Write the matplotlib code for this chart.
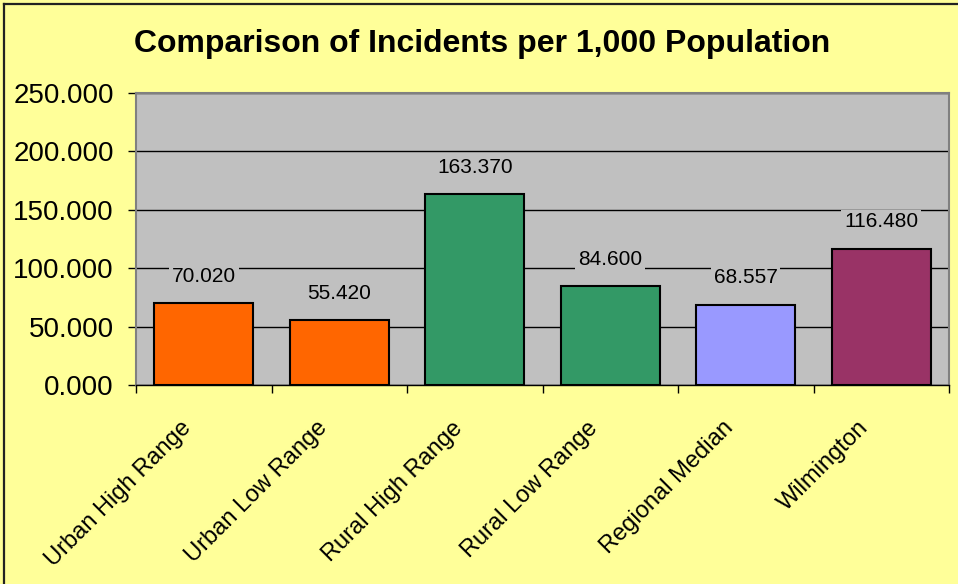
import matplotlib
matplotlib.use("Agg")
import matplotlib.pyplot as plt
from matplotlib.lines import Line2D
from matplotlib.transforms import ScaledTranslation
import numpy as np

# data
categories = ["Urban High Range", "Urban Low Range", "Rural High Range",
              "Rural Low Range", "Regional Median", "Wilmington"]
values = [70.020, 55.420, 163.370, 84.600, 68.557, 116.480]
bar_colors = ["#FF6600", "#FF6600", "#339966", "#339966", "#9999FF", "#993366"]
y_ticks = [0, 50, 100, 150, 200, 250]

plt.rcParams['font.family'] = ['Liberation Sans', 'DejaVu Sans']

fig = plt.figure(figsize=(9.58, 5.84), dpi=100, facecolor="#FFFF99")
ax = fig.add_axes([136 / 958, 1 - 385 / 584, (949 - 136) / 958, (385 - 93) / 584])
ax.set_facecolor("#C0C0C0")

x = np.arange(len(categories))
ax.bar(x, values, width=0.73, color=bar_colors, edgecolor="black", linewidth=1.5, zorder=3)

ax.set_xlim(-0.5, len(categories) - 0.5)
ax.set_ylim(0, 250)
ax.set_yticks(y_ticks)
ax.set_yticklabels([f"{v:.3f}" for v in y_ticks], fontsize=20)
ax.yaxis.grid(True, color="black", linewidth=1, zorder=1)
ax.set_axisbelow(True)

# category ticks sit between bars, labels at bar centres
ax.set_xticks(np.arange(-0.5, len(categories), 1.0))
ax.set_xticklabels([])
ax.set_xticks(x, minor=True)
ax.set_xticklabels(categories, minor=True, rotation=45, ha="right", va="top",
                   fontsize=17)
ax.tick_params(axis="x", which="minor", length=0, pad=23)
ax.tick_params(axis="x", which="major", length=6, width=1, color="black")
ax.tick_params(axis="y", length=6, width=1, color="black", pad=10)
shift = ScaledTranslation(-8 / 100, 0, fig.dpi_scale_trans)
for lab in ax.get_xticklabels(minor=True):
    lab.set_transform(lab.get_transform() + shift)

for side in ["left", "top", "right"]:
    ax.spines[side].set_color("#808080")
    ax.spines[side].set_linewidth(1.5)
ax.spines["bottom"].set_color("black")
ax.spines["bottom"].set_linewidth(1)

for xi, v in zip(x, values):
    ax.annotate(f"{v:.3f}", (xi, v), xytext=(0, 19.5), textcoords="offset points",
                ha="center", va="center", fontsize=15, zorder=4,
                bbox=dict(facecolor="#C0C0C0", edgecolor="none", pad=2))

fig.text(0.503, 0.925, "Comparison of Incidents per 1,000 Population",
         ha="center", va="center", fontsize=23, fontweight="bold")

# chart border (left and top edges only visible)
fig.add_artist(Line2D([3.5 / 958, 3.5 / 958], [0, 1 - 3.5 / 584], color="#222222",
                      linewidth=1.6, transform=fig.transFigure))
fig.add_artist(Line2D([3.5 / 958, 1], [1 - 3.5 / 584, 1 - 3.5 / 584], color="#222222",
                      linewidth=1.6, transform=fig.transFigure))

fig.savefig("out.png", dpi=100, facecolor=fig.get_facecolor())
